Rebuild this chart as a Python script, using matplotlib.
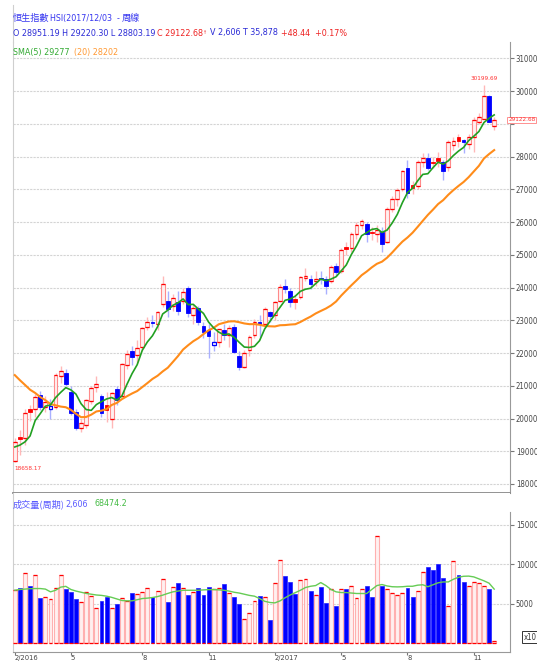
import matplotlib
matplotlib.use("Agg")
import matplotlib.pyplot as plt
from matplotlib.lines import Line2D
from matplotlib import font_manager as fm
import numpy as np
import pandas as pd

# ---------------- data (weekly HSI, week of 2016-02-14 .. 2017-12-03) ----------------
opens = [18700, 19450, 19400, 20290, 20300, 20720, 20350, 20300, 20350, 21300,
         21400, 20800, 20200, 19720, 19800, 20550, 20950, 20700, 20420, 20000,
         20900, 20700, 21650, 22050, 21950, 22200, 22800, 22950, 22900, 23500,
         23600, 23450, 23550, 23600, 23980, 23170, 23380, 22830, 22700, 22250,
         22350, 22720, 22560, 22800, 21920, 21580, 22100, 22550, 22950, 22900,
         23250, 23150, 23600, 24050, 23900, 23650, 23700, 24300, 24250, 24200,
         24300, 24250, 24200, 24650, 24500, 25250, 25200, 25650, 25900, 25950,
         25700, 25650, 25700, 25400, 26400, 26700, 27000, 27650, 27150, 27100,
         27850, 27950, 27830, 27950, 27850, 27700, 28350, 28600, 28500, 28400,
         28600, 29050, 29150, 29850, 28951.19]
highs = [19420, 19650, 20300, 20420, 20760, 20850, 20680, 20600, 21380, 21620,
         21520, 21000, 20300, 20000, 20600, 21000, 21300, 20750, 20800, 20800,
         21000, 21700, 22100, 22230, 22400, 22800, 23100, 23150, 23300, 24364,
         23900, 23800, 23900, 24000, 24060, 23500, 23450, 22950, 22900, 22650,
         22750, 22900, 22850, 22900, 22050, 22100, 22550, 23050, 23150, 23400,
         23300, 23600, 24100, 24250, 24000, 23750, 24350, 24600, 24400, 24500,
         24500, 24350, 24700, 24750, 25200, 25400, 25700, 26000, 26100, 26000,
         25850, 25900, 25850, 26450, 26800, 27050, 27600, 27900, 27250, 27900,
         28100, 28100, 28000, 28150, 27900, 28500, 28600, 28700, 28550, 28700,
         29200, 29350, 30199.69, 29900, 29220.30]
lows = [18658.17, 18900, 19200, 19930, 20050, 20250, 20200, 20000, 20300, 21100,
        20980, 20100, 19650, 19600, 19700, 20450, 20800, 20050, 19900, 19700,
        20400, 20650, 21500, 21650, 21700, 22100, 22700, 22800, 22700, 23400,
        23100, 23300, 23150, 23500, 23100, 22900, 22850, 22450, 21850, 22050,
        22200, 22400, 22200, 22000, 21480, 21550, 21900, 22450, 22500, 22800,
        22950, 23000, 23550, 23850, 23400, 23350, 23650, 24200, 23950, 24050,
        24100, 23800, 24150, 24350, 24450, 25000, 25100, 25500, 25800, 25400,
        25450, 25400, 25100, 25350, 26300, 26500, 26950, 26750, 26850, 27000,
        27700, 27600, 27650, 27700, 27300, 27550, 28200, 28300, 28100, 28250,
        28150, 29000, 29150, 29050, 28803.19]
closes = [19285, 19364, 20176, 20199, 20671, 20345, 20498, 20370, 21316, 21467,
          21067, 20156, 19719, 19852, 20576, 20947, 21042, 20169, 20259, 20794,
          20564, 21659, 21964, 21891, 22146, 22767, 22937, 22909, 23266, 24099,
          23335, 23686, 23297, 23852, 23233, 23374, 22955, 22642, 22531, 22344,
          22723, 22564, 22760, 22020, 21575, 22001, 22503, 22937, 22885, 23361,
          23129, 23575, 24034, 23966, 23553, 23569, 24310, 24358, 24112, 24267,
          24262, 24042, 24615, 24476, 25156, 25175, 25639, 25924, 26030, 25626,
          25670, 25765, 25341, 26389, 26706, 26979, 27563, 26884, 27048, 27848,
          27953, 27668, 27808, 27881, 27554, 28458, 28476, 28487, 28439, 28604,
          29121, 29199, 29866, 29074, 29122.68]
# closes of the 19 weeks before the first bar (for the moving averages)
pre_closes = [22459, 23067, 23151, 22640, 22867, 22397, 22754, 22068, 22236, 21464,
              21756, 22138, 21914, 20453, 19521, 19080, 19683, 19289, 18320]
volumes = [6700, 7000, 8860, 7300, 8700, 5700, 5800, 5600, 7000, 8700,
           6800, 6500, 5600, 5200, 6500, 6000, 4500, 5400, 5800, 4400,
           4900, 5700, 5400, 6300, 6200, 6500, 7000, 5800, 6600, 8100,
           5200, 7100, 7600, 7000, 6100, 6500, 7000, 6100, 7100, 6800,
           7000, 7500, 6400, 5900, 4900, 3000, 3800, 5400, 6000, 5800,
           2900, 7600, 10500, 8500, 7700, 6200, 8000, 8100, 6600, 6100,
           7100, 5100, 6800, 4700, 6800, 6800, 7200, 5700, 6900, 7300,
           5800, 13600, 7300, 6800, 6400, 6100, 6300, 7000, 5800, 6600,
           9000, 9700, 9300, 10100, 8300, 4700, 10400, 8600, 7700, 7300,
           7700, 7600, 7200, 6800, 260.6]
vol_ma = [6700, 6800, 6850, 6900, 6920, 6920, 6850, 6500, 6700, 7100,
          7200, 6800, 6600, 6450, 6300, 6200, 6100, 6050, 5950, 5800,
          5600, 5400, 5360, 5360, 5500, 5650, 5700, 5780, 5900, 6080,
          6300, 6500, 6600, 6700, 6700, 6700, 6700, 6750, 6780, 6790,
          6750, 6700, 6600, 6450, 6350, 6200, 6050, 5950, 5650, 5300,
          5150, 5100, 5350, 5750, 6100, 6400, 6700, 7050, 7210, 7300,
          7680, 7300, 6800, 6500, 6410, 6410, 6350, 6290, 6290, 6290,
          6800, 7300, 7430, 7250, 7150, 7130, 7150, 7210, 7210, 7350,
          7400, 7150, 7400, 7650, 7760, 7760, 8100, 8350, 8480, 8500,
          8400, 8150, 7900, 7600, 6847.42]
tick_idx = [0, 11, 25, 38, 51, 64, 77, 90]
tick_labels = ["2/2016", "5", "8", "11", "2/2017", "5", "8", "11"]
price_ticks = list(range(18000, 31001, 1000))
vol_ticks = [5000, 10000, 15000]

title_cjk1 = "恒生指數"
title_mid = "HSI(2017/12/03  - "
title_cjk2 = "周線"
ohl_text = "O 28951.19 H 29220.30 L 28803.19"
close_text = "C 29122.68"
vt_text = "V 2,606 T 35,878"
chg_text = "+48.44  +0.17%"
sma5_text = "SMA(5) 29277"
sma20_text = "(20) 28202"
vol_title_cjk = "成交量(周期)"
vol_last = "2,606"
vol_ma_text = "68474.2"
low_label = "18658.17"
high_label = "30199.69"
last_label = "29122.68"


# ---------------- font choice (narrow if available) ----------------
def pick_narrow():
    best = None
    for f in fm.fontManager.ttflist:
        name = f.name
        fn = f.fname
        tag = (name + " " + fn + " " + str(f.stretch)).lower()
        if not any(k in tag for k in ("condensed", "narrow")):
            continue
        if "semi" in tag or "extra" in tag or "ultra" in tag:
            continue
        if f.style != "normal":
            continue
        if f.weight not in (400, "normal", "regular", "book"):
            continue
        if any(k in tag for k in ("mono", "serif")) and "sans" not in tag:
            continue
        best = fn
        if "sans" in tag:
            break
    return best


NARROW_FILE = pick_narrow()
if NARROW_FILE:
    NFP = fm.FontProperties(fname=NARROW_FILE)
    HFS, TFS, SFS = 6.4, 5.6, 4.6
else:
    NFP = fm.FontProperties(family="Liberation Sans")
    HFS, TFS, SFS = 5.4, 4.8, 4.1
CJKFP = fm.FontProperties(family="Noto Sans CJK TC")


def nfp(size):
    p = NFP.copy()
    p.set_size(size)
    return p


def cfp(size):
    p = CJKFP.copy()
    p.set_size(size)
    return p


# ---------------- derived ----------------
n = len(closes)
x = np.arange(n)
allc = pd.Series(pre_closes + closes, dtype=float)
sma5 = allc.rolling(5).mean().values[len(pre_closes):]
sma20 = allc.rolling(20).mean().values[len(pre_closes):]

W, H = 537, 663
fig = plt.figure(figsize=(W / 100, H / 100), dpi=100)
fig.patch.set_facecolor("white")


def fx(px):
    return px / W


def fy(py):
    return 1 - py / H


XL, XR = 13, 510
MAIN_T, MAIN_B = 42, 493
VOL_B = 652

ax = fig.add_axes([fx(XL), fy(MAIN_B), fx(XR) - fx(XL), fy(MAIN_T) - fy(MAIN_B)])
axv = fig.add_axes([fx(XL), fy(VOL_B), fx(XR) - fx(XL), fy(MAIN_B) - fy(VOL_B)], sharex=ax)

xlim = (-0.35, 97.1)
PY0, PY1 = 17725, 31504
VY0, VY1 = -1143, 19060
ax.set_xlim(*xlim)
ax.set_ylim(PY0, PY1)
axv.set_ylim(VY0, VY1)

PINK_EDGE = "#ff8a8a"
PINK_FACE = "#fff0f0"
PINK_WICK = "#ffb8b8"
BLUE = "#0000ff"
BLUE_WICK = "#a9b0ff"
RED = "#ff0000"

cw = 0.74
for i in range(n):
    o, h, l, c = opens[i], highs[i], lows[i], closes[i]
    prev = closes[i - 1] if i > 0 else pre_closes[-1]
    up_prev = c >= prev
    wick_col = PINK_WICK if up_prev else BLUE_WICK
    ax.vlines(i, l, h, color=wick_col, lw=1.0, zorder=2)
    bot = min(o, c)
    hgt = max(abs(c - o), 12)
    if c >= o:
        edge = PINK_EDGE if up_prev else BLUE
        face = PINK_FACE if up_prev else "white"
        ax.bar(i, hgt, bottom=bot, width=cw, color=face, edgecolor=edge, lw=0.8, zorder=3)
        ax.hlines([bot, bot + hgt], i - cw / 2, i + cw / 2, color=RED if up_prev else BLUE, lw=0.9, zorder=4)
    else:
        col = RED if up_prev else BLUE
        ax.bar(i, hgt, bottom=bot, width=cw, color=col, edgecolor=col, lw=0.6, zorder=3)

ax.plot(x, sma20, color="#ff8c1a", lw=1.5, zorder=5)
ax.plot(x, sma5, color="#22a022", lw=1.2, zorder=6)

ax.text(-0.1, lows[0] - 120, low_label, color="#ff3333", fontproperties=nfp(SFS), ha="left", va="top")
ax.text(92, highs[92] + 120, high_label, color="#ff3333", fontproperties=nfp(SFS), ha="center", va="bottom")

ax.yaxis.tick_right()
ax.set_yticks(price_ticks)
ax.set_yticklabels(["" if t == 29000 else str(t) for t in price_ticks])
ax.tick_params(axis="y", direction="out", length=3, width=0.8, colors="#777777", pad=1.2,
               labelcolor="#444444")
for lab in ax.get_yticklabels():
    lab.set_fontproperties(nfp(TFS))
ax.tick_params(axis="x", bottom=False, labelbottom=False)
ax.grid(axis="y", color="#d4d4d4", lw=0.8, linestyle=(0, (2, 1)))
ax.set_axisbelow(True)
ax.spines["top"].set_visible(False)
ax.spines["left"].set_color("#cfcfcf")
ax.spines["right"].set_color("#999999")
ax.spines["bottom"].set_color("#8a8a8a")
ax.spines["bottom"].set_linewidth(1.3)

ax.text(1.0 + 25.5 / (XR - XL), (closes[-1] - PY0) / (PY1 - PY0), last_label, transform=ax.transAxes,
        color="#ff3333", fontproperties=nfp(SFS), ha="right", va="center", zorder=10, clip_on=False,
        bbox=dict(boxstyle="square,pad=0.12", facecolor="white", edgecolor="#ff8080", lw=0.6))

# ---------------- volume ----------------
vw = 0.76
for i in range(n):
    v = volumes[i]
    if closes[i] < opens[i]:
        axv.bar(i, v, width=vw, color=BLUE, edgecolor="#2020ff", lw=0.5, zorder=3)
    else:
        axv.bar(i, v, width=vw, color=PINK_FACE, edgecolor="#ffb0b0", lw=0.8, zorder=3)
        axv.hlines(v, i - vw / 2, i + vw / 2, color=RED, lw=0.9, zorder=4)
    axv.hlines(0, i - vw / 2, i + vw / 2, color=RED, lw=0.9, zorder=4)
axv.plot(x, vol_ma, color="#66cc55", lw=1.0, zorder=5)

axv.yaxis.tick_right()
axv.set_yticks(vol_ticks)
axv.set_yticklabels([str(t) for t in vol_ticks])
axv.tick_params(axis="y", direction="out", length=3, width=0.8, colors="#777777", pad=1.2,
                labelcolor="#444444")
for lab in axv.get_yticklabels():
    lab.set_fontproperties(nfp(TFS))
axv.set_xticks(tick_idx)
axv.set_xticklabels(tick_labels)
axv.tick_params(axis="x", direction="out", length=2, width=0.8, colors="#777777", pad=0.3,
                labelcolor="#444444")
for lab in axv.get_xticklabels():
    lab.set_horizontalalignment("left")
    lab.set_fontproperties(nfp(TFS - 0.2))
axv.grid(axis="y", color="#d4d4d4", lw=0.8, linestyle=(0, (2, 1)))
axv.set_axisbelow(True)
axv.spines["top"].set_visible(False)
axv.spines["left"].set_color("#cfcfcf")
axv.spines["right"].set_color("#999999")
axv.spines["right"].set_bounds(VY0, 16650)
axv.spines["bottom"].set_color("#999999")
axv.set_xlim(*xlim)

fig.text(fx(524), fy(637), "x10", fontproperties=nfp(TFS), color="#333333", ha="left", va="center",
         bbox=dict(boxstyle="square,pad=0.2", facecolor="white", edgecolor="#333333", lw=0.7))

# ---------------- headers ----------------
fig.add_artist(Line2D([fx(XL), fx(XL)], [fy(5), fy(MAIN_T)], color="#cfcfcf", lw=0.8))
renderer = fig.canvas.get_renderer()


def chain(x0, ypx, segments):
    xp = x0
    for s, col, gap, fp in segments:
        t = fig.text(fx(xp), fy(ypx), s, color=col, va="center", ha="left", fontproperties=fp)
        bb = t.get_window_extent(renderer=renderer)
        xp = bb.x1 + gap


BLUE_T = "#3535f0"
CFS = HFS + 0.2
chain(13, 18, [(title_cjk1, BLUE_T, 0, cfp(CFS)), (title_mid, BLUE_T, 0, nfp(HFS)),
               (title_cjk2, BLUE_T, 0, cfp(CFS))])
chain(13, 33, [(ohl_text, "#2b2bd6", 1.5, nfp(HFS)), (close_text, "#ee2222", 0.5, nfp(HFS)),
               ("\u2191", "#ee2222", 2, fm.FontProperties(family="DejaVu Sans", size=3.5)),
               (vt_text, "#2b2bd6", 4, nfp(HFS)), (chg_text, "#ee2222", 0, nfp(HFS))])
chain(13, 52, [(sma5_text, "#33aa33", 4, nfp(HFS)), (sma20_text, "#ff9933", 0, nfp(HFS))])
chain(13, 504, [(vol_title_cjk, "#5a5aff", 1, cfp(CFS)), (vol_last, "#5a5aff", 6, nfp(HFS)),
                (vol_ma_text, "#44bb44", 0, nfp(HFS))])

fig.savefig("out.png", dpi=100, facecolor="white")
